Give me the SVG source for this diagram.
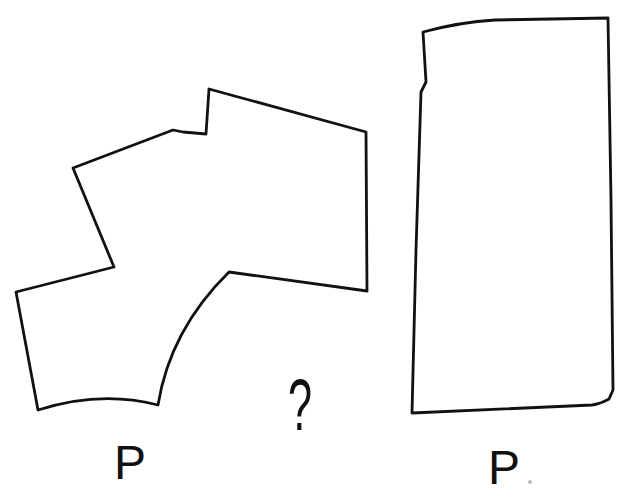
<svg xmlns="http://www.w3.org/2000/svg" width="617" height="503" viewBox="0 0 617 503">
<style>
.sh{fill:none;stroke:#111;stroke-width:2.8;stroke-linejoin:round;stroke-linecap:round}
.lb{font-family:"Liberation Sans",Arial,sans-serif;fill:#111}
</style>
<rect width="617" height="503" fill="#fff"/>
<g id="shape-left">
<path class="sh" d="M209,89 L206,134 L183,132 L173,130 L73,168 L114,267 L16,292 L38,410 Q100,390 158,405 Q170,330 229,272 L367,291 L366,132 L209,89 Z"/>
</g>
<g id="shape-right">
<path class="sh" d="M423,32 Q460,22 495,20 L608,18 L611,200 Q612,330 613,390 L609,399 Q600,404 592,405 L412,413 L416,250 L421,92 L426,82 L423,32 Z"/>
</g>
<g id="labels">
<text class="lb" x="114" y="479" font-size="48">P</text>
<text class="lb" font-size="72" transform="translate(288,430) scale(0.6,1)">?</text>
<text class="lb" x="488" y="484" font-size="48">P</text>
<circle cx="530" cy="482" r="2" fill="#bbb"/>
</g>
</svg>
